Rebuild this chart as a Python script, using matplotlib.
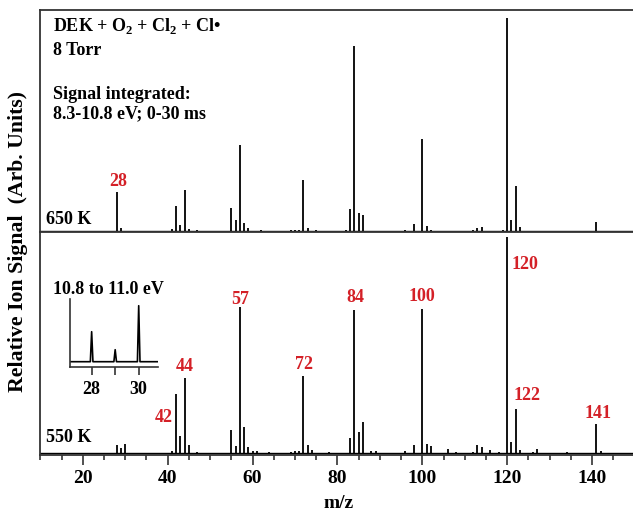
import numpy as np
import matplotlib
matplotlib.use('Agg')
import matplotlib.pyplot as plt
from matplotlib.ticker import MultipleLocator

plt.rcParams['font.family'] = 'Liberation Serif'
plt.rcParams['font.weight'] = 'bold'
plt.rcParams['mathtext.fontset'] = 'custom'
plt.rcParams['mathtext.rm'] = 'Liberation Serif:bold'

# 650 K spectrum (m/z, relative signal)
mz_650  = [28, 29, 41, 42, 43, 44, 45, 47, 55, 56, 57, 58, 59, 62, 69, 70, 71, 72, 73, 75,
           82, 83, 84, 85, 86, 96, 98, 100, 101, 102, 112, 113, 114, 119, 120, 121, 122, 123, 141]
sig_650 = [39, 3, 2, 25, 6, 41, 2, 1, 23, 11, 86, 8, 3, 1, 1, 1, 1, 51, 3, 1,
           1, 22, 185, 18, 16, 1, 7, 92, 5, 1, 1, 2.5, 3.5, 1, 213, 11, 45, 4, 9]

# 550 K spectrum
mz_550  = [28, 29, 30, 41, 42, 43, 44, 45, 47, 55, 56, 57, 58, 59, 60, 61, 64, 69, 70, 71,
           72, 73, 74, 78, 83, 84, 85, 86, 88, 89, 96, 98, 100, 101, 102, 106, 108, 112,
           113, 114, 116, 118, 120, 121, 122, 123, 126, 127, 134, 141, 142]
sig_550 = [8, 5, 9, 2, 59, 17, 75, 8, 1, 23, 7, 145, 26, 6, 2, 2, 1, 1, 2, 2,
           77, 8, 3, 1, 15, 142, 21, 31, 2, 2, 2, 8, 143, 9, 7, 4, 1, 1,
           8, 6, 3, 1, 215, 11, 44, 3, 1, 4, 1, 29, 2]

# inset: 10.8 to 11.0 eV
mz_inset  = [28, 29, 30]
sig_inset = [30, 12, 56]

labels_650 = [28]
labels_550 = [42, 44, 57, 72, 84, 100, 120, 122, 141]
offsets_650 = [(1, 7)]
offsets_550 = [(-9, -17.6), (0, 7.8), (0, 6.1), (0.5, 7.6), (1, 9), (0, 9.2),
               (13, -19.8), (8, 9.7), (1, 7.2)]

red = '#d42027'
spine_c = '#333333'

fig = plt.figure(figsize=(6.33, 5.19), dpi=100)
ax1 = fig.add_axes([0.0637, 0.5530, 0.9363, 0.4277])
ax2 = fig.add_axes([0.0637, 0.1233, 0.9363, 0.4297])

for ax, mz, sig in [(ax1, mz_650, sig_650), (ax2, mz_550, sig_550)]:
	ax.axhline(0, color='k', lw=1.0)
	ax.vlines(mz, 0, sig, color='k', lw=1.3)
	ax.set_xlim(10, 149.65)
	ax.spines['right'].set_visible(False)
	for s in ['left', 'top', 'bottom']:
		ax.spines[s].set_color(spine_c)
		ax.spines[s].set_linewidth(1.3)
	ax.set_yticks([])

ax1.set_ylim(-1.3, 220.7)
ax2.set_ylim(-2.5, 220.5)
ax1.set_xticks([])

ax2.xaxis.set_major_locator(MultipleLocator(20))
ax2.xaxis.set_minor_locator(MultipleLocator(5))
ax2.tick_params(axis='x', which='major', direction='out', length=7, width=1.2,
                color=spine_c, labelsize=14, pad=4)
ax2.tick_params(axis='x', which='minor', direction='out', length=3.5, width=1.2, color=spine_c)

# peak labels
for ax, labs, offs, mz, sig in [(ax1, labels_650, offsets_650, mz_650, sig_650),
                                (ax2, labels_550, offsets_550, mz_550, sig_550)]:
	for m, off in zip(labs, offs):
		h = sig[mz.index(m)]
		ax.annotate(str(m), xy=(m, h), xytext=off, textcoords='offset points',
		            ha='center', va='center', color=red, fontsize=13, fontweight='bold')

ax1.text(0.0095, 0.0345, '650 K', transform=ax1.transAxes, fontsize=13, va='baseline')
ax2.text(0.0095, 0.058, '550 K', transform=ax2.transAxes, fontsize=13, va='baseline')

fig.text(53/633, 1 - 31.5/519, 'DEK + O$_2$ + Cl$_2$ + Cl\u2022', fontsize=13, va='baseline')
fig.text(53/633, 1 - 55/519, '8 Torr', fontsize=13, va='baseline')
fig.text(53/633, 1 - 99/519, 'Signal integrated:', fontsize=13, va='baseline')
fig.text(53/633, 1 - 118.5/519, '8.3-10.8 eV; 0-30 ms', fontsize=13, va='baseline')
fig.text(53/633, 1 - 294.5/519, '10.8 to 11.0 eV', fontsize=13, va='baseline')

fig.text(18.5/633, 1 - 242/519, 'Relative Ion Signal  (Arb. Units)', rotation=90,
         ha='center', va='center', fontsize=15.7)
fig.text(339/633, 1 - 503/519, 'm/z', ha='center', va='center', fontsize=14)

# inset trace
ax3 = fig.add_axes([70/633, 1 - 366.7/519, 88/633, 67.7/519])
w = 0.055
xs = [27.0]
ys = [0]
for m, h in zip(mz_inset, sig_inset):
	xs += [m - w, m, m + w]
	ys += [0, h, 0]
xs.append(31.0)
ys.append(0)
ax3.plot(xs, ys, color='k', lw=1.2)
ax3.set_xlim(27.08, 30.82)
ax3.set_ylim(-5, 62.7)
ax3.patch.set_alpha(0)
ax3.spines['top'].set_visible(False)
ax3.spines['right'].set_visible(False)
for s in ['left', 'bottom']:
	ax3.spines[s].set_color(spine_c)
	ax3.spines[s].set_linewidth(1.2)
ax3.set_yticks([])
ax3.set_xticks([28, 29, 30])
ax3.set_xticklabels(['28', '', '30'])
ax3.tick_params(axis='x', direction='out', length=6, width=1.2, color=spine_c,
                labelsize=13, pad=4)

fig.savefig('out.png', dpi=100)
